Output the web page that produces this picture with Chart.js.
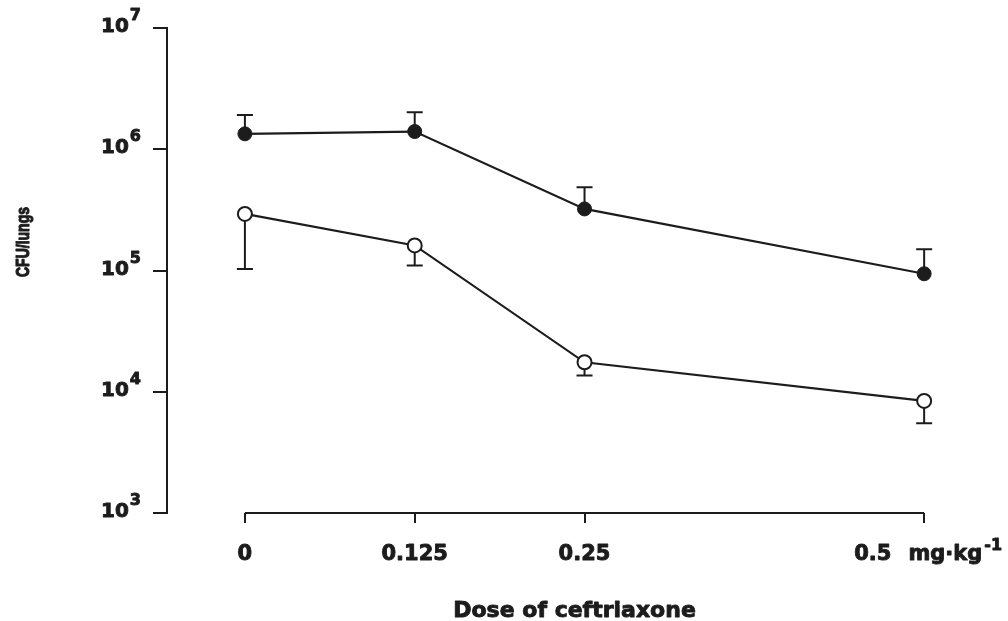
<!DOCTYPE html>
<html>
<head>
<meta charset="utf-8">
<title>CFU/lungs vs dose of ceftriaxone</title>
<script src="https://cdn.jsdelivr.net/npm/chart.js@4.4.1/dist/chart.umd.min.js"></script>
<style>
    body { margin: 0; background: #fff; }
    canvas { display: block; }
</style>
</head>
<body>
<canvas id="chart" width="1008" height="621"></canvas>
<script>

// =========================
// DATA
// =========================

const doses = [0, 0.125, 0.25, 0.5];
const doseLabels = ["0", "0.125", "0.25", "0.5"];
const doseUnit = "mg·kg";
const doseUnitExp = "-1";

// filled circles (upper error bars)
const filledMeans = [1.34e6, 1.40e6, 3.22e5, 9.4e4];
const filledUpper = [1.92e6, 2.02e6, 4.87e5, 1.5e5];

// open circles (lower error bars)
const openMeans = [2.93e5, 1.61e5, 1.75e4, 8.4e3];
const openLower = [1.03e5, 1.10e5, 1.36e4, 5.5e3];

const yTicks = [1e3, 1e4, 1e5, 1e6, 1e7];
const yTickExps = ["3", "4", "5", "6", "7"];

const ink = "#1c1c1c";
const tickFont = "bold 21px 'DejaVu Sans', sans-serif";
const supFont = "bold 16px 'DejaVu Sans', sans-serif";

// heavy text: fill plus a thin stroke, like the scanned print
function heavyText(ctx, text, x, y) {
    ctx.fillText(text, x, y);
    ctx.strokeText(text, x, y);
}

// =========================
// ERROR BARS
// =========================

const errorBars = {
    id: "errorBars",
    beforeDatasetsDraw(chart) {
        const ctx = chart.ctx;
        const x = chart.scales.x;
        const y = chart.scales.y;
        ctx.save();
        ctx.strokeStyle = ink;
        ctx.lineWidth = 2;
        const bar = (xv, from, to) => {
            const px = x.getPixelForValue(xv);
            const p1 = y.getPixelForValue(from);
            const p2 = y.getPixelForValue(to);
            ctx.beginPath();
            ctx.moveTo(px, p1);
            ctx.lineTo(px, p2);
            ctx.moveTo(px - 8, p2);
            ctx.lineTo(px + 8, p2);
            ctx.stroke();
        };
        doses.forEach((d, i) => {
            bar(d, filledMeans[i], filledUpper[i]);
            bar(d, openMeans[i], openLower[i]);
        });
        ctx.restore();
    }
};

// =========================
// AXES, LABELS, TITLES
// =========================

const axisText = {
    id: "axisText",
    afterDraw(chart) {
        const ctx = chart.ctx;
        const x = chart.scales.x;
        const y = chart.scales.y;
        const area = chart.chartArea;
        ctx.save();
        ctx.fillStyle = ink;
        ctx.strokeStyle = ink;

        // x axis line only between first and last dose
        ctx.lineWidth = 2;
        ctx.beginPath();
        ctx.moveTo(x.getPixelForValue(doses[0]), area.bottom);
        ctx.lineTo(x.getPixelForValue(doses[doses.length - 1]), area.bottom);
        ctx.stroke();

        ctx.lineWidth = 0.9;
        ctx.lineJoin = "round";

        // y tick labels 10^n
        ctx.textBaseline = "middle";
        ctx.textAlign = "left";
        yTicks.forEach((v, i) => {
            const py = y.getPixelForValue(v);
            ctx.font = supFont;
            const ew = ctx.measureText(yTickExps[i]).width;
            ctx.font = "bold 20px 'DejaVu Sans', sans-serif";
            const bw = ctx.measureText("10").width;
            const right = 141;
            heavyText(ctx, "10", right - ew - bw - 1, py - 1);
            ctx.font = supFont;
            heavyText(ctx, yTickExps[i], right - ew, py - 12);
        });

        // x tick labels
        const ly = area.bottom + 42;
        ctx.font = tickFont;
        doses.forEach((d, i) => {
            const px = x.getPixelForValue(d);
            if (i < doses.length - 1) {
                ctx.textAlign = "center";
                heavyText(ctx, doseLabels[i], px, ly);
                return;
            }
            // last label carries the unit, group centred on tick
            ctx.textAlign = "left";
            ctx.font = tickFont;
            const w1 = ctx.measureText(doseLabels[i]).width;
            const gap = 17;
            const w2 = ctx.measureText(doseUnit).width;
            ctx.font = supFont;
            const w3 = ctx.measureText(doseUnitExp).width;
            let sx = px - (w1 + gap + w2 + w3 + 2) / 2 + 4;
            ctx.font = tickFont;
            heavyText(ctx, doseLabels[i], sx, ly);
            sx += w1 + gap;
            heavyText(ctx, doseUnit, sx, ly);
            sx += w2 + 2;
            ctx.font = supFont;
            heavyText(ctx, doseUnitExp, sx, ly - 9);
        });

        // x title
        ctx.textAlign = "center";
        ctx.font = "bold 22px 'DejaVu Sans', sans-serif";
        const midX = (x.getPixelForValue(doses[0]) + x.getPixelForValue(doses[doses.length - 1])) / 2;
        heavyText(ctx, "Dose of ceftriaxone", midX - 10, 611);

        // y title, a little stretched across like the print
        ctx.translate(24, 242);
        ctx.rotate(-Math.PI / 2);
        ctx.scale(1, 1.3);
        ctx.font = "bold 14px 'Liberation Sans', Arial, sans-serif";
        heavyText(ctx, "CFU/lungs", 0, 0);

        ctx.restore();
    }
};

// =========================
// CHART
// =========================

new Chart(document.getElementById("chart"), {
    type: "line",
    data: {
        datasets: [
            {
                label: "filled",
                data: doses.map((d, i) => ({ x: d, y: filledMeans[i] })),
                borderColor: ink,
                borderWidth: 2.2,
                pointRadius: 7,
                pointBackgroundColor: ink,
                pointBorderColor: ink,
                pointBorderWidth: 1,
                tension: 0
            },
            {
                label: "open",
                data: doses.map((d, i) => ({ x: d, y: openMeans[i] })),
                borderColor: ink,
                borderWidth: 2.2,
                pointRadius: 7,
                pointBackgroundColor: "#fff",
                pointBorderColor: ink,
                pointBorderWidth: 2,
                tension: 0
            }
        ]
    },
    options: {
        responsive: false,
        animation: false,
        layout: { padding: { top: 28, right: 8, left: 0, bottom: 0 } },
        plugins: {
            legend: { display: false },
            tooltip: { enabled: false }
        },
        scales: {
            x: {
                type: "linear",
                min: -0.05735,
                max: 0.5551,
                afterBuildTicks: scale => {
                    scale.ticks = doses.map(v => ({ value: v }));
                },
                afterFit: scale => { scale.height = 108; },
                ticks: { display: false },
                border: { display: false },
                grid: {
                    drawOnChartArea: false,
                    drawTicks: true,
                    tickLength: 10,
                    color: ink,
                    lineWidth: 2
                }
            },
            y: {
                type: "logarithmic",
                min: 1e3,
                max: 1e7,
                afterBuildTicks: scale => {
                    scale.ticks = yTicks.map(v => ({ value: v }));
                },
                afterFit: scale => { scale.width = 167; },
                ticks: { display: false },
                border: { display: true, color: ink, width: 2 },
                grid: {
                    drawOnChartArea: false,
                    drawTicks: true,
                    tickLength: 14,
                    color: ink,
                    lineWidth: 2
                }
            }
        }
    },
    plugins: [errorBars, axisText]
});

</script>
</body>
</html>
